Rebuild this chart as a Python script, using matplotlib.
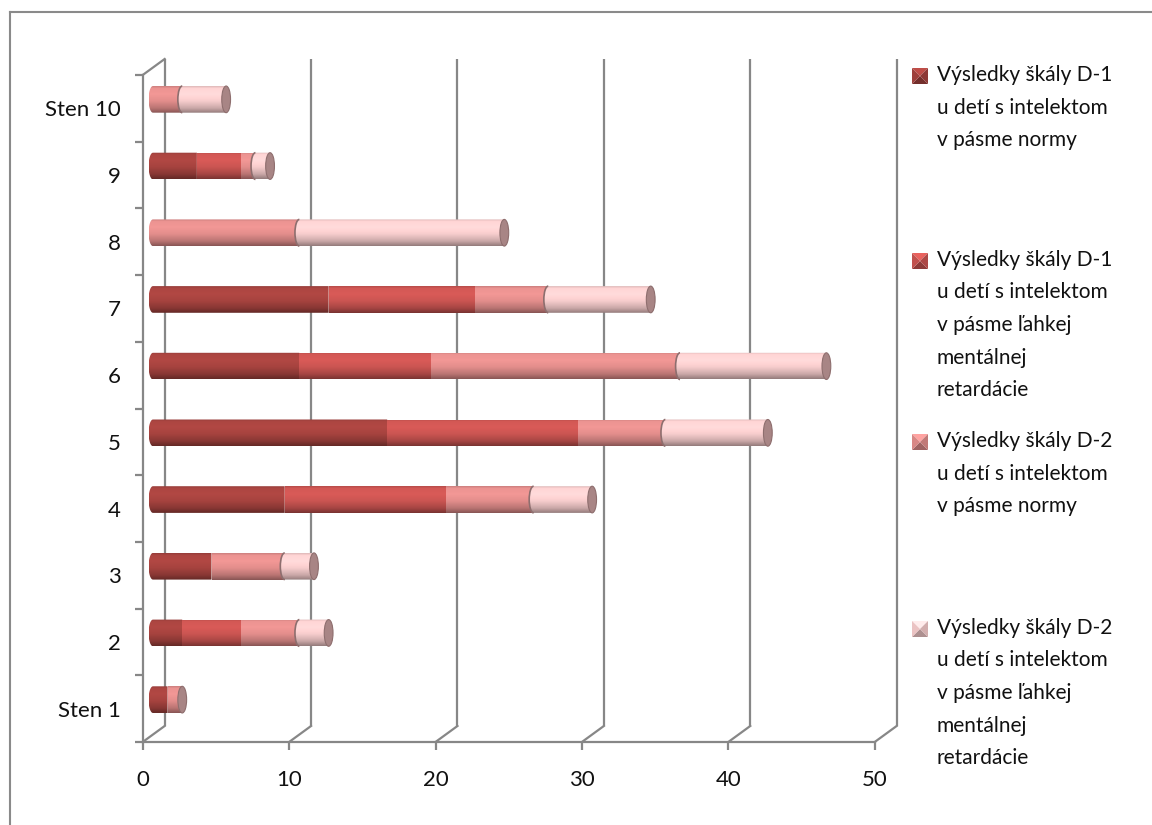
"""Stacked 3D-style horizontal bar chart of sten scores (D-1 / D-2 scales)
"""

# Import libraries
import numpy as np
import matplotlib
matplotlib.use("Agg")
import matplotlib.pyplot as plt
from matplotlib.patches import Ellipse, Arc, Polygon
from matplotlib.lines import Line2D
from matplotlib.colors import to_rgb

# Data
categories = ["Sten 1", "2", "3", "4", "5", "6", "7", "8", "9", "Sten 10"]
d1_norm = [1, 2, 4, 9, 16, 10, 12, 0, 3, 0]
d1_lmr = [0, 4, 0, 11, 13, 9, 10, 0, 3, 0]
d2_norm = [1, 4, 5, 6, 6, 17, 5, 10, 1, 2]
d2_lmr = [0, 2, 2, 4, 7, 10, 7, 14, 1, 3]
series_labels = [
    "Výsledky škály D-1\nu detí s intelektom\nv pásme normy",
    "Výsledky škály D-1\nu detí s intelektom\nv pásme ľahkej\nmentálnej\nretardácie",
    "Výsledky škály D-2\nu detí s intelektom\nv pásme normy",
    "Výsledky škály D-2\nu detí s intelektom\nv pásme ľahkej\nmentálnej\nretardácie",
]
series_colors = ["#A6433F", "#CB5552", "#E38E8C", "#F7CDCD"]
x_ticks = [0, 10, 20, 30, 40, 50]

W, H = 1152, 825
plt.rcParams['font.family'] = ['Lato', 'DejaVu Sans']
FS = 16
FS_LEG = 15
TXT = "#111111"
GRID = "#878787"

fig = plt.figure(figsize=(W / 100, H / 100), dpi=100)
ax = fig.add_axes([142.7 / W, 1 - 742 / H, 732 / W, 667 / H])
ax.set_xlim(0, 50)
ax.set_ylim(0.5, 10.5)

# depth of the 3D box, in data units
DX, DY = 1.5, 0.24
# bars sit half way in depth
BX, BY = 0.7, 0.135
BAR_H = 0.4
RX = 0.3


def shade(color, n=64):
    """Vertical cylinder shading for one colour (row 0 = top)"""
    t = np.linspace(0, 1, n)
    prof = np.interp(t, [0, 0.08, 0.3, 0.55, 0.82, 1.0],
                     [0.9, 1.04, 1.07, 1.0, 0.82, 0.6])
    rgb = np.clip(np.array(to_rgb(color))[None, :] * prof[:, None], 0, 1)
    return rgb[:, None, :]


def half_ellipse(xc, yc, rx, ry, n=30):
    th = np.linspace(np.pi / 2, 3 * np.pi / 2, n)
    return list(zip(xc + rx * np.cos(th), yc + ry * np.sin(th)))


# Back wall gridlines and floor diagonals
for xv in x_ticks:
    ax.plot([xv + DX, xv + DX], [0.5 + DY, 10.5 + DY], color=GRID, lw=1.6,
            clip_on=False, zorder=1, solid_capstyle='butt')
    ax.plot([xv, xv + DX], [0.5, 0.5 + DY], color=GRID, lw=1.6,
            clip_on=False, zorder=1)
ax.plot([0, DX], [10.5, 10.5 + DY], color=GRID, lw=1.6, clip_on=False, zorder=1)

# Bars
series = [d1_norm, d1_lmr, d2_norm, d2_lmr]
for i in range(len(categories)):
    yc = i + 1 + BY
    y0, y1 = yc - BAR_H / 2, yc + BAR_H / 2
    left = BX
    first = True
    prev_nonzero = False
    for s, vals in enumerate(series):
        v = vals[i]
        if v == 0:
            continue
        right = left + v
        pts = []
        if first or (s == 3 and prev_nonzero):
            pts += half_ellipse(left, yc, RX, BAR_H / 2)
            ext_left = left - RX
        else:
            pts += [(left, y1), (left, y0)]
            ext_left = left
        pts += [(right, y0), (right, y1)]
        clip = Polygon(pts, closed=True, transform=ax.transData)
        im = ax.imshow(shade(series_colors[s]), extent=[ext_left, right, y0, y1],
                       aspect='auto', interpolation='bilinear', zorder=3)
        im.set_clip_path(clip)
        if s == 3 and prev_nonzero:
            ax.add_patch(Arc((left, yc), 2 * RX, BAR_H, theta1=90, theta2=270,
                             color="#8E6E6E", lw=1.2, zorder=4))
        first = False
        prev_nonzero = True
        left = right
    # end cap of the cylinder
    ax.add_patch(Ellipse((left, yc), 2 * RX, BAR_H, facecolor="#A88585",
                         edgecolor="#8E6E6E", lw=0.8, zorder=4))

# Axes, ticks and labels
for side in ["top", "right"]:
    ax.spines[side].set_visible(False)
for side in ["left", "bottom"]:
    ax.spines[side].set_color(GRID)
    ax.spines[side].set_linewidth(1.6)
ax.set_facecolor("none")
ax.set_xticks(x_ticks)
ax.set_xticklabels([str(t) for t in x_ticks], fontsize=FS, color=TXT)
ax.tick_params(axis='x', length=6, width=1.6, color=GRID, pad=14)
ax.set_yticks(np.arange(1, len(categories) + 1))
ax.set_yticklabels(categories, fontsize=FS, color=TXT)
ax.set_yticks(np.arange(0.5, len(categories) + 1, 1), minor=True)
ax.tick_params(axis='y', which='major', length=0, pad=16)
ax.tick_params(axis='y', which='minor', length=6, width=1.6, color=GRID)

# Legend, drawn by hand
entry_tops = [75, 260, 441, 628]
line_gap = 32.5
for k, label in enumerate(series_labels):
    for j, line in enumerate(label.split("\n")):
        fig.text(937 / W, 1 - (entry_tops[k] + j * line_gap) / H, line,
                 fontsize=FS_LEG, va='center', ha='left', color=TXT)
    cx, cy, r = 920, entry_tops[k] + 1, 8
    base = np.array(to_rgb(series_colors[k]))
    faces = [
        ([(cx - r, cy - r), (cx + r, cy - r), (cx, cy)], 1.15),
        ([(cx - r, cy + r), (cx + r, cy + r), (cx, cy)], 0.7),
        ([(cx - r, cy - r), (cx - r, cy + r), (cx, cy)], 0.95),
        ([(cx + r, cy - r), (cx + r, cy + r), (cx, cy)], 0.85),
    ]
    for tri, f in faces:
        pts = [(px / W, 1 - py / H) for px, py in tri]
        fig.add_artist(Polygon(pts, closed=True, transform=fig.transFigure,
                               facecolor=np.clip(base * f, 0, 1),
                               edgecolor='none'))

# Outer frame of the chart area
fig.add_artist(Line2D([10 / W, 10 / W], [0, 1 - 12 / H], color="#8A8A8A",
                      lw=1.5, transform=fig.transFigure))
fig.add_artist(Line2D([10 / W, 1], [1 - 12 / H, 1 - 12 / H], color="#8A8A8A",
                      lw=1.5, transform=fig.transFigure))

fig.savefig("out.png", dpi=100)
